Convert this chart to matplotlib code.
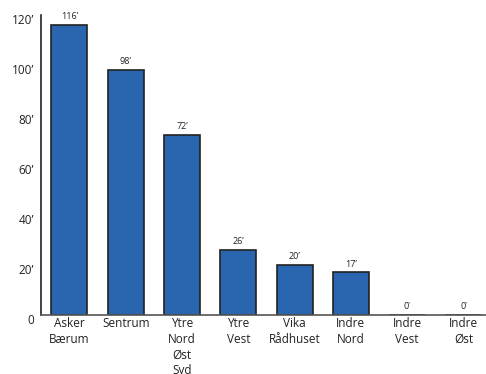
import matplotlib
matplotlib.use("Agg")
import matplotlib.pyplot as plt
import matplotlib.transforms as mtransforms

categories = ["Asker\nBærum", "Sentrum", "Ytre\nNord\nØst\nSyd", "Ytre\nVest",
              "Vika\nRådhuset", "Indre\nNord", "Indre\nVest", "Indre\nØst"]
values = [116, 98, 72, 26, 20, 17, 0, 0]
y_ticks = [0, 20, 40, 60, 80, 100, 120]
y_tick_labels = ["0", "20\u2019", "40\u2019", "60\u2019", "80\u2019", "100\u2019", "120\u2019"]

plt.rcParams["font.family"] = ["Open Sans", "DejaVu Sans"]

fig = plt.figure(figsize=(4.86, 3.74), dpi=100)
ax = fig.add_axes([41 / 486, 1 - 314.7 / 374, 1 - 41 / 486, 300 / 374])

x = list(range(len(categories)))
ax.bar(x, values, width=0.64, color="#2a66b0", edgecolor="#222222", linewidth=1.2, zorder=2)

for xi, v in zip(x, values):
    ax.annotate(f"{v}\u2019", (xi, v), xytext=(0, 2.5), textcoords="offset points",
                ha="center", va="bottom", fontsize=6.5, color="#222222")

ax.set_xlim(-0.506, 7.4)
ax.set_ylim(0, 120)
ax.set_yticks(y_ticks)
ax.set_yticklabels(y_tick_labels, fontsize=8.5, color="#222222")
ax.set_xticks(x)
ax.set_xticklabels(categories, fontsize=8.5, color="#222222", linespacing=1.25)
ax.tick_params(axis="both", length=0)
ax.tick_params(axis="y", pad=5)
ax.tick_params(axis="x", pad=2)

# nudge y tick labels slightly downward
offset = mtransforms.ScaledTranslation(0, -4 / 100, fig.dpi_scale_trans)
for lbl in ax.get_yticklabels():
    lbl.set_transform(lbl.get_transform() + offset)

for side in ["top", "right"]:
    ax.spines[side].set_visible(False)
ax.spines["left"].set_color("#222222")
ax.spines["left"].set_linewidth(1.2)
ax.spines["bottom"].set_color("#555555")
ax.spines["bottom"].set_linewidth(1.2)

fig.savefig("out.png", dpi=100)
